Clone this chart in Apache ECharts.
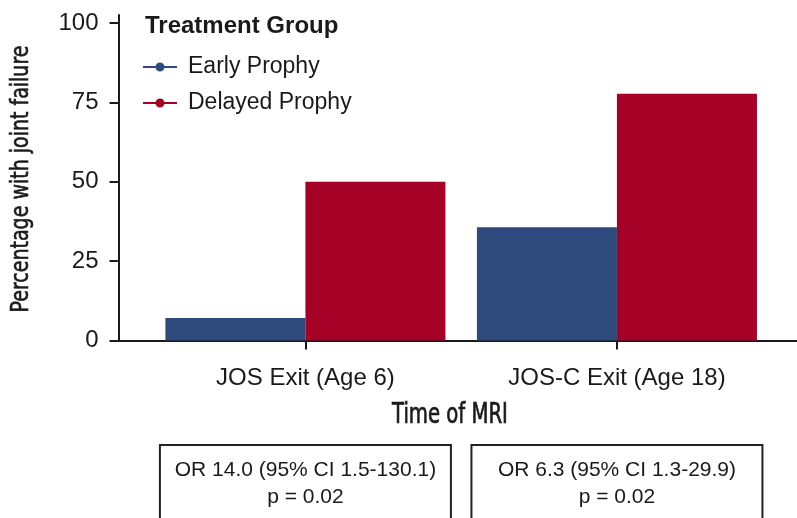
<!DOCTYPE html>
<html>
<head>
<meta charset="utf-8">
<script src="https://cdn.jsdelivr.net/npm/echarts@6/dist/echarts.min.js"></script>
<style>
  html, body { margin: 0; padding: 0; background: #ffffff; }
  #chart { width: 797px; height: 518px; }
</style>
</head>
<body>
<div id="chart"></div>
<script>
// ---- data ----
const categories = ['JOS Exit (Age 6)', 'JOS-C Exit (Age 18)'];
const categoryPositions = [1, 2];
const seriesNames = ['Early Prophy', 'Delayed Prophy'];
const earlyProphy = [7.1, 35.7];
const delayedProphy = [50, 77.8];
const yTicks = [0, 25, 50, 75, 100];
const xTitle = 'Time of MRI';
const yTitle = 'Percentage with joint failure';
const legendTitle = 'Treatment Group';
const oddsRatioLines = [
  ['OR 14.0 (95% CI 1.5-130.1)', 'p = 0.02'],
  ['OR 6.3 (95% CI 1.3-29.9)', 'p = 0.02']
];

// ---- styles ----
const BLUE = '#2e4a7d';
const RED = '#a50026';
const INK = '#1a1a1a';
const SANS = '"Liberation Sans", Arial, Helvetica, sans-serif';
const NARROW = '"DejaVu Sans Condensed", "DejaVu Sans", sans-serif';
const legendIcon = 'path://M0,4L13,4L13,6L0,6Z M21,4L34,4L34,6L21,6Z M12.5,5A4.5,4.5 0 1,1 21.5,5A4.5,4.5 0 1,1 12.5,5Z';

const chart = echarts.init(document.getElementById('chart'), null, { renderer: 'canvas' });

const option = {
  backgroundColor: '#ffffff',
  animation: false,
  title: [{
    text: legendTitle,
    left: 145, top: 14, padding: 0,
    textStyle: { fontFamily: SANS, fontSize: 24, fontWeight: 'bold', color: INK }
  }],
  legend: {
    orient: 'vertical',
    left: 143, top: 55, padding: 0,
    itemWidth: 34, itemHeight: 9, itemGap: 12,
    icon: legendIcon,
    data: seriesNames,
    textStyle: { fontFamily: SANS, fontSize: 23, color: INK, lineHeight: 24, padding: [0, 0, 0, 6] }
  },
  grid: { left: 118.5, top: 15, right: 0, height: 325.5 },
  xAxis: {
    type: 'value',
    min: 0.4, max: 2.578,
    axisLine: { show: true, lineStyle: { color: INK, width: 2 } },
    axisTick: { show: true, customValues: categoryPositions, length: 9, lineStyle: { color: INK, width: 2 } },
    axisLabel: {
      customValues: categoryPositions,
      margin: 26,
      fontFamily: SANS, fontSize: 24, color: INK,
      formatter: v => { const i = categoryPositions.indexOf(v); return i >= 0 ? categories[i] : ''; }
    },
    splitLine: { show: false }
  },
  yAxis: {
    type: 'value',
    min: 0, max: 102.6,
    axisLine: { show: true, lineStyle: { color: INK, width: 2 } },
    axisTick: { show: true, customValues: yTicks, length: 9, lineStyle: { color: INK, width: 2 } },
    axisLabel: { customValues: yTicks, margin: 20, fontFamily: SANS, fontSize: 24, color: INK },
    splitLine: { show: false }
  },
  series: [
    {
      name: seriesNames[0], type: 'bar', barWidth: 140, barGap: '0%',
      itemStyle: { color: BLUE },
      data: categoryPositions.map((x, i) => [x, earlyProphy[i]])
    },
    {
      name: seriesNames[1], type: 'bar', barWidth: 140, barGap: '0%',
      itemStyle: { color: RED },
      data: categoryPositions.map((x, i) => [x, delayedProphy[i]])
    }
  ]
};
chart.setOption(option);

// axis titles (condensed look) and annotation boxes centred under each category
const graphics = [
  {
    type: 'text', x: 22, y: 179, rotation: Math.PI / 2, scaleX: 0.88,
    style: { text: yTitle, fontFamily: NARROW, fontSize: 24, fill: INK, stroke: INK, lineWidth: 0.6, align: 'center', verticalAlign: 'middle' }
  },
  {
    type: 'text', x: 450, y: 416, scaleX: 0.78,
    style: { text: xTitle, fontFamily: NARROW, fontSize: 28, fill: INK, stroke: INK, lineWidth: 0.7, align: 'center', verticalAlign: 'middle' }
  }
];
const boxW = 291, boxTop = 445, boxH = 110;
categoryPositions.forEach((x, i) => {
  const cx = chart.convertToPixel({ gridIndex: 0 }, [x, 0])[0];
  graphics.push({
    type: 'rect',
    shape: { x: cx - boxW / 2, y: boxTop, width: boxW, height: boxH },
    style: { fill: '#ffffff', stroke: '#222222', lineWidth: 2 }
  });
  oddsRatioLines[i].forEach((line, j) => {
    graphics.push({
      type: 'text',
      x: cx, y: 470 + j * 27,
      style: { text: line, fontFamily: SANS, fontSize: 21, fill: INK, align: 'center', verticalAlign: 'middle' }
    });
  });
});
chart.setOption({ graphic: graphics });
</script>
</body>
</html>
